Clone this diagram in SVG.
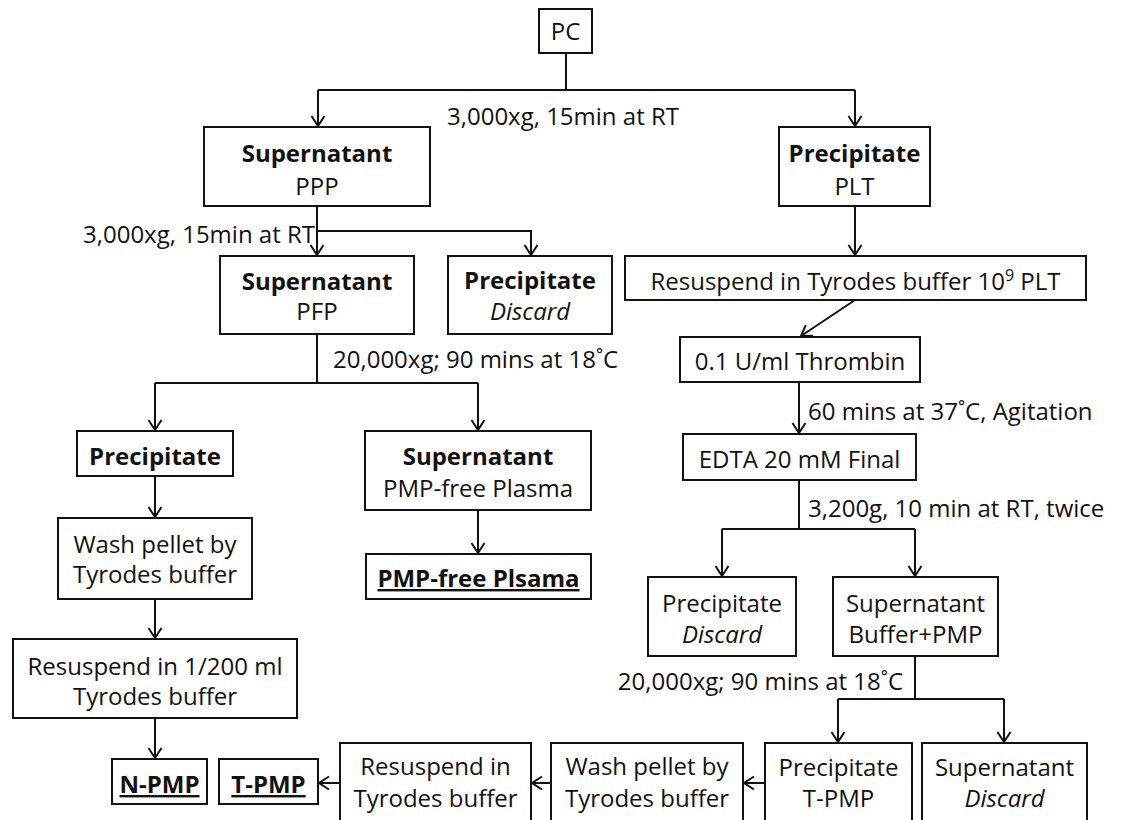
<svg xmlns="http://www.w3.org/2000/svg" width="1121" height="820" viewBox="0 0 1121 820">
<defs>
<style>
text{font-family:"Open Sans","Noto Sans","Liberation Sans",sans-serif;font-size:24px;fill:#111}
.b{font-weight:bold}
.i{font-style:italic}
.u{text-decoration:underline}
.m{text-anchor:middle}
.e{text-anchor:end}
rect{fill:#fff;stroke:#111;stroke-width:2}
.c path{fill:none;stroke:#111;stroke-width:2}
</style>
<marker id="ah" markerUnits="userSpaceOnUse" viewBox="-12 -8 14 16" refX="0" refY="0" markerWidth="14" markerHeight="16" orient="auto">
<path d="M-10,-6.5 L0,0 L-10,6.5" fill="none" stroke="#111" stroke-width="2"/>
</marker>
</defs>
<rect x="0" y="0" width="1121" height="820" style="fill:#fff;stroke:none"/>
<g class="c" id="connectors">
<path d="M566,53 V90"/>
<path d="M318,90 H855"/>
<path d="M318,90 V126" marker-end="url(#ah)"/>
<path d="M855,90 V126" marker-end="url(#ah)"/>
<path d="M317,206 V255" marker-end="url(#ah)"/>
<path d="M317,231 H531 V255" marker-end="url(#ah)"/>
<path d="M855,206 V255" marker-end="url(#ah)"/>
<path d="M855,300 L801,336" marker-end="url(#ah)"/>
<path d="M317,334 V383"/>
<path d="M155,383 H478"/>
<path d="M155,383 V430" marker-end="url(#ah)"/>
<path d="M478,383 V430" marker-end="url(#ah)"/>
<path d="M799,382 V433" marker-end="url(#ah)"/>
<path d="M799,480 V529"/>
<path d="M722,529 H915"/>
<path d="M722,529 V576" marker-end="url(#ah)"/>
<path d="M915,529 V576" marker-end="url(#ah)"/>
<path d="M155,476 V517" marker-end="url(#ah)"/>
<path d="M478,510 V553" marker-end="url(#ah)"/>
<path d="M155,599 V638" marker-end="url(#ah)"/>
<path d="M155,718 V758" marker-end="url(#ah)"/>
<path d="M915,656 V699"/>
<path d="M838,699 H1004"/>
<path d="M838,699 V742" marker-end="url(#ah)"/>
<path d="M1004,699 V742" marker-end="url(#ah)"/>
<path d="M765,783 H744" marker-end="url(#ah)"/>
<path d="M551,783 H532" marker-end="url(#ah)"/>
<path d="M340,783 H319" marker-end="url(#ah)"/>
</g>
<g id="labels">
<text x="447" y="125">3,000xg, 15min at RT</text>
<text class="e" x="315" y="243">3,000xg, 15min at RT</text>
<text x="333" y="368">20,000xg; 90 mins at 18˚C</text>
<text x="808" y="420">60 mins at 37˚C, Agitation</text>
<text x="808" y="517">3,200g, 10 min at RT, twice</text>
<text class="e" x="903" y="690">20,000xg; 90 mins at 18˚C</text>
</g>
<g id="pc"><rect x="539" y="9" width="53" height="44"/><text class="m" x="565.5" y="40">PC</text></g>
<g id="ppp"><rect x="204" y="127" width="226" height="79"/><text class="m b" x="317" y="162">Supernatant</text><text class="m" x="317" y="195">PPP</text></g>
<g id="plt"><rect x="779" y="127" width="151" height="79"/><text class="m b" x="854.5" y="162">Precipitate</text><text class="m" x="854.5" y="195">PLT</text></g>
<g id="pfp"><rect x="220" y="256" width="194" height="78"/><text class="m b" x="317" y="290">Supernatant</text><text class="m" x="317" y="320">PFP</text></g>
<g id="discard1"><rect x="448" y="256" width="164" height="78"/><text class="m b" x="530" y="289">Precipitate</text><text class="m i" x="530" y="320">Discard</text></g>
<g id="resuspend-plt"><rect x="625" y="256" width="461" height="44"/><text class="m" x="855.5" y="290">Resuspend in Tyrodes buffer 10<tspan font-size="16" dy="-9">9</tspan><tspan dy="9"> PLT</tspan></text></g>
<g id="thrombin"><rect x="680" y="337" width="240" height="45"/><text class="m" x="800" y="370">0.1 U/ml Thrombin</text></g>
<g id="edta"><rect x="683" y="434" width="233" height="46"/><text class="m" x="799.5" y="468">EDTA 20 mM Final</text></g>
<g id="precip-n"><rect x="77" y="431" width="156" height="45"/><text class="m b" x="155" y="465">Precipitate</text></g>
<g id="super-free"><rect x="365" y="431" width="226" height="79"/><text class="m b" x="478" y="465">Supernatant</text><text class="m" x="478" y="497">PMP-free Plasma</text></g>
<g id="wash-n"><rect x="58" y="518" width="194" height="81"/><text class="m" x="155" y="553">Wash pellet by</text><text class="m" x="155" y="583">Tyrodes buffer</text></g>
<g id="pmp-free"><rect x="366" y="554" width="225" height="45"/><text class="m b u" x="478.5" y="587">PMP-free Plsama</text></g>
<g id="resuspend-n"><rect x="13" y="639" width="284" height="79"/><text class="m" x="155" y="675">Resuspend in 1/200 ml</text><text class="m" x="155" y="705">Tyrodes buffer</text></g>
<g id="n-pmp"><rect x="112" y="759" width="95" height="45"/><text class="m b u" x="159.5" y="793">N-PMP</text></g>
<g id="t-pmp"><rect x="219" y="759" width="99" height="45"/><text class="m b u" x="268.5" y="793">T-PMP</text></g>
<g id="resuspend-t"><rect x="340" y="743" width="191" height="90"/><text class="m" x="435.5" y="775">Resuspend in</text><text class="m" x="435.5" y="807">Tyrodes buffer</text></g>
<g id="wash-t"><rect x="551" y="743" width="192" height="90"/><text class="m" x="647" y="775">Wash pellet by</text><text class="m" x="647" y="807">Tyrodes buffer</text></g>
<g id="precip-t"><rect x="765" y="743" width="147" height="90"/><text class="m" x="838.5" y="776">Precipitate</text><text class="m" x="838.5" y="807">T-PMP</text></g>
<g id="super-discard"><rect x="922" y="743" width="165" height="90"/><text class="m" x="1004.5" y="776">Supernatant</text><text class="m i" x="1004.5" y="807">Discard</text></g>
<g id="discard2"><rect x="648" y="577" width="148" height="79"/><text class="m" x="722" y="612">Precipitate</text><text class="m i" x="722" y="643">Discard</text></g>
<g id="buffer-pmp"><rect x="833" y="577" width="165" height="79"/><text class="m" x="915.5" y="612">Supernatant</text><text class="m" x="915.5" y="643">Buffer+PMP</text></g>
</svg>
